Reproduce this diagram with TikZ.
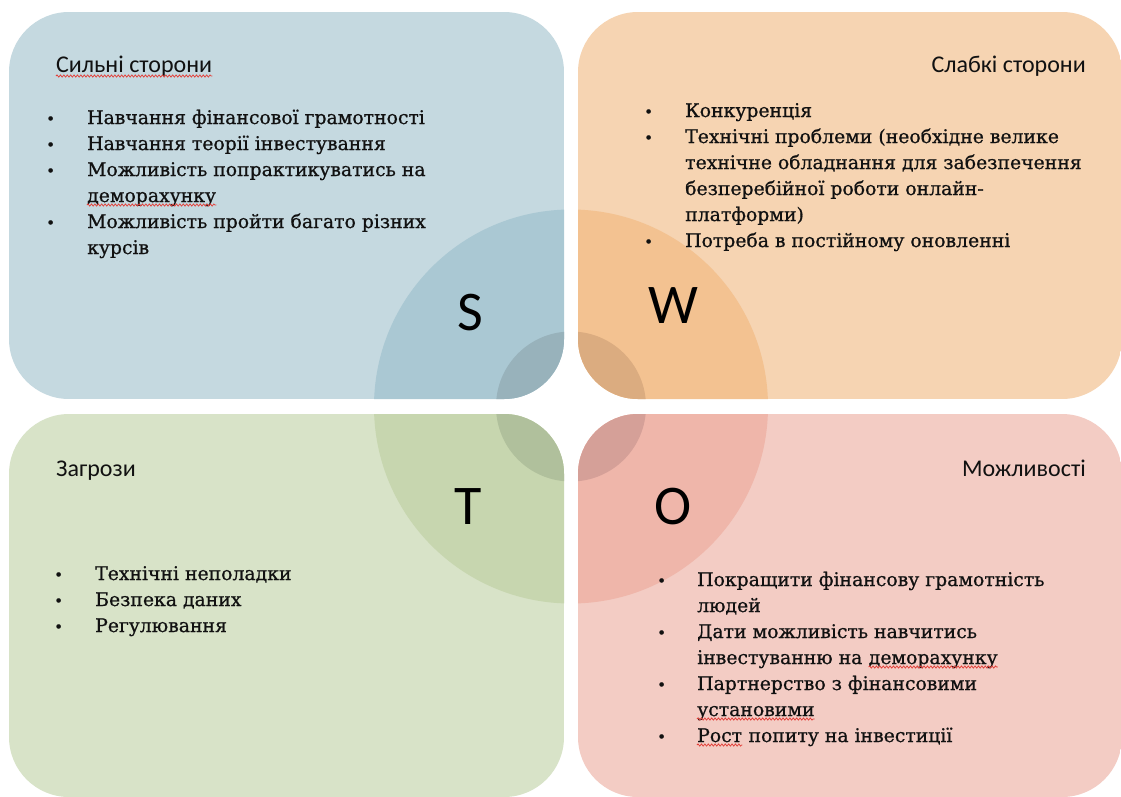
\documentclass[tikz,border=0pt]{standalone}
\usepackage{fontspec}
\setmainfont{DejaVu Serif}
\newfontfamily\headfont{Carlito}
\newfontfamily\bodyfont[FakeBold=0.8]{DejaVu Serif}
\usetikzlibrary{decorations.pathmorphing}
\definecolor{sbox}{HTML}{C5D9E0}
\definecolor{sbig}{HTML}{AAC8D3}
\definecolor{ssmall}{HTML}{98B2BB}
\definecolor{wbox}{HTML}{F6D4B2}
\definecolor{wbig}{HTML}{F3C291}
\definecolor{wsmall}{HTML}{DBAC80}
\definecolor{tbox}{HTML}{D8E3C8}
\definecolor{tbig}{HTML}{C7D6AF}
\definecolor{tsmall}{HTML}{B0C09C}
\definecolor{obox}{HTML}{F3CCC4}
\definecolor{obig}{HTML}{EFB6AA}
\definecolor{osmall}{HTML}{D5A098}
\definecolor{squigred}{HTML}{E2403A}
\definecolor{ink}{HTML}{111111}
\tikzset{
  head/.style={inner sep=0pt, text=ink, font=\headfont\fontsize{24}{27}\selectfont},
  body/.style={inner sep=0pt, text=ink, font=\bodyfont\fontsize{18.8}{22}\selectfont},
  bul/.style={inner sep=0pt, text=ink, font=\bodyfont\fontsize{15}{18}\selectfont, anchor=base west},
  letter/.style={inner sep=0pt, text=black, font=\headfont\fontsize{56}{60}\selectfont, anchor=base},
  squig/.style={draw=squigred, line width=0.75pt, decorate,
    decoration={snake, amplitude=1.1pt, segment length=3.4pt}},
}
\begin{document}
\begin{tikzpicture}[x=1pt,y=-1pt]
\useasboundingbox (0,0) rectangle (1121,796);
\fill[white] (0,0) rectangle (1121,796);
\coordinate (c) at (571,406.5);
% S
\begin{scope}
\clip[rounded corners=60pt] (9,12) rectangle (564,399);
\fill[sbox] (9,12) rectangle (564,399);
\fill[sbig] (c) circle[radius=197pt];
\fill[ssmall] (c) circle[radius=75pt];
\end{scope}
% W
\begin{scope}
\clip[rounded corners=60pt] (578,12) rectangle (1122,399);
\fill[wbox] (578,12) rectangle (1122,399);
\fill[wbig] (c) circle[radius=197pt];
\fill[wsmall] (c) circle[radius=75pt];
\end{scope}
% T
\begin{scope}
\clip[rounded corners=60pt] (9,414) rectangle (564,797);
\fill[tbox] (9,414) rectangle (564,797);
\fill[tbig] (c) circle[radius=197pt];
\fill[tsmall] (c) circle[radius=75pt];
\end{scope}
% O
\begin{scope}
\clip[rounded corners=60pt] (578,414) rectangle (1122,797);
\fill[obox] (578,414) rectangle (1122,797);
\fill[obig] (c) circle[radius=197pt];
\fill[osmall] (c) circle[radius=75pt];
\end{scope}

% letters
\node[letter] (ls) at (470.5,330) {S};
\node[letter] (lw) at (673,323) {W};
\node[letter] (lt) at (468,524) {T};
\node[letter] (lo) at (673.5,524) {O};

% S text
\node[head, anchor=base west] (sh) at (56,72) {Сильні сторони};
\draw[squig] ([yshift=-4pt]sh.base west) -- ([yshift=-4pt]sh.base east);
\node[bul] (sb1) at (46,124) {•};
\node[bul] (sb2) at (46,150) {•};
\node[bul] (sb3) at (46,176) {•};
\node[bul] (sb4) at (46,228) {•};
\node[body, anchor=base west] (s1) at (87,124) {Навчання фінансової грамотності};
\node[body, anchor=base west] (s2) at (87,150) {Навчання теорії інвестування};
\node[body, anchor=base west] (s3) at (87,176) {Можливість попрактикуватись на};
\node[body, anchor=base west] (s4) at (87,202) {деморахунку};
\draw[squig] ([yshift=-3pt]s4.base west) -- ([yshift=-3pt]s4.base east);
\node[body, anchor=base west] (s5) at (87,228) {Можливість пройти багато різних};
\node[body, anchor=base west] (s6) at (87,254) {курсів};

% W text
\node[head, anchor=base east] (wh) at (1086,72) {Слабкі сторони};
\node[bul] (wb1) at (644,117) {•};
\node[bul] (wb2) at (644,143) {•};
\node[bul] (wb3) at (644,247) {•};
\node[body, anchor=base west] (w1) at (685,117) {Конкуренція};
\node[body, anchor=base west] (w2) at (685,143) {Технічні проблеми (необхідне велике};
\node[body, anchor=base west] (w3) at (685,169) {технічне обладнання для забезпечення};
\node[body, anchor=base west] (w4) at (685,195) {безперебійної роботи онлайн-};
\node[body, anchor=base west] (w5) at (685,221) {платформи)};
\node[body, anchor=base west] (w6) at (685,247) {Потреба в постійному оновленні};

% T text
\node[head, anchor=base west] (th) at (56,476) {Загрози};
\node[bul] (tb1) at (54,580) {•};
\node[bul] (tb2) at (54,606) {•};
\node[bul] (tb3) at (54,632) {•};
\node[body, anchor=base west] (t1) at (95,580) {Технічні неполадки};
\node[body, anchor=base west] (t2) at (95,606) {Безпека даних};
\node[body, anchor=base west] (t3) at (95,632) {Регулювання};

% O text
\node[head, anchor=base east] (oh) at (1086,476) {Можливості};
\node[bul] (ob1) at (657,586) {•};
\node[bul] (ob2) at (657,638) {•};
\node[bul] (ob3) at (657,690) {•};
\node[bul] (ob4) at (657,742) {•};
\node[body, anchor=base west] (o1) at (697,586) {Покращити фінансову грамотність};
\node[body, anchor=base west] (o2) at (697,612) {людей};
\node[body, anchor=base west] (o3) at (697,638) {Дати можливість навчитись};
\node[body, anchor=base west] (o4a) at (697,664) {інвестуванню на};
\node[body, anchor=base west] (o4b) at ([xshift=6pt]o4a.base east) {деморахунку};
\draw[squig] ([yshift=-3pt]o4b.base west) -- ([yshift=-3pt]o4b.base east);
\node[body, anchor=base west] (o5) at (697,690) {Партнерство з фінансовими};
\node[body, anchor=base west] (o6) at (697,716) {установими};
\draw[squig] ([yshift=-3pt]o6.base west) -- ([yshift=-3pt]o6.base east);
\node[body, anchor=base west] (o7a) at (697,742) {Рост};
\node[body, anchor=base west] (o7b) at ([xshift=6pt]o7a.base east) {попиту на інвестиції};
\draw[squig] ([yshift=-3pt]o7a.base west) -- ([yshift=-3pt]o7a.base east);
\end{tikzpicture}
\end{document}
